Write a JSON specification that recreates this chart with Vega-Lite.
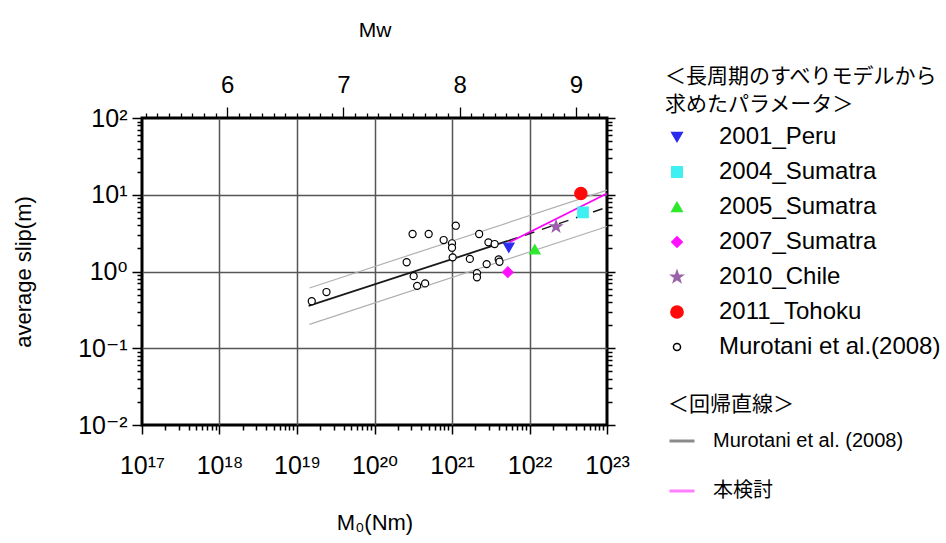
{
  "$schema": "https://vega.github.io/schema/vega-lite/v6.json",
  "width": 465,
  "height": 307,
  "autosize": {"type": "none"},
  "padding": {"left": 142, "top": 118, "right": 339, "bottom": 118},
  "background": "white",
  "config": {
    "view": {"stroke": "black", "strokeWidth": 3},
    "font": "Liberation Sans",
    "axis": {"labelColor": "black", "titleColor": "black", "tickColor": "black", "titleFontWeight": "normal", "labelFont": "Liberation Sans, DejaVu Sans", "titleFont": "Liberation Sans, DejaVu Sans"},
    "legend": {"labelLimit": 0, "titleLimit": 0}
  },
  "datasets": {
    "pts": [
      {"M0": 1.55e19, "slip": 0.41, "ev": "Murotani et al.(2008)"},
      {"M0": 2.4e19, "slip": 0.54, "ev": "Murotani et al.(2008)"},
      {"M0": 3.1e20, "slip": 3.08, "ev": "Murotani et al.(2008)"},
      {"M0": 5.0e20, "slip": 3.08, "ev": "Murotani et al.(2008)"},
      {"M0": 2.6e20, "slip": 1.32, "ev": "Murotani et al.(2008)"},
      {"M0": 3.2e20, "slip": 0.87, "ev": "Murotani et al.(2008)"},
      {"M0": 3.55e20, "slip": 0.65, "ev": "Murotani et al.(2008)"},
      {"M0": 4.5e20, "slip": 0.70, "ev": "Murotani et al.(2008)"},
      {"M0": 7.8e20, "slip": 2.57, "ev": "Murotani et al.(2008)"},
      {"M0": 1.0e21, "slip": 2.33, "ev": "Murotani et al.(2008)"},
      {"M0": 1.0e21, "slip": 2.04, "ev": "Murotani et al.(2008)"},
      {"M0": 1.12e21, "slip": 3.95, "ev": "Murotani et al.(2008)"},
      {"M0": 1.02e21, "slip": 1.53, "ev": "Murotani et al.(2008)"},
      {"M0": 1.7e21, "slip": 1.46, "ev": "Murotani et al.(2008)"},
      {"M0": 2.24e21, "slip": 3.08, "ev": "Murotani et al.(2008)"},
      {"M0": 2.1e21, "slip": 0.95, "ev": "Murotani et al.(2008)"},
      {"M0": 2.1e21, "slip": 0.84, "ev": "Murotani et al.(2008)"},
      {"M0": 2.8e21, "slip": 1.25, "ev": "Murotani et al.(2008)"},
      {"M0": 2.95e21, "slip": 2.40, "ev": "Murotani et al.(2008)"},
      {"M0": 3.55e21, "slip": 2.28, "ev": "Murotani et al.(2008)"},
      {"M0": 4.0e21, "slip": 1.44, "ev": "Murotani et al.(2008)"},
      {"M0": 4.1e21, "slip": 1.34, "ev": "Murotani et al.(2008)"},
      {"M0": 5.4e21, "slip": 2.04, "ev": "2001_Peru"},
      {"M0": 4.9e22, "slip": 5.9, "ev": "2004_Sumatra"},
      {"M0": 1.17e22, "slip": 1.95, "ev": "2005_Sumatra"},
      {"M0": 5.25e21, "slip": 0.98, "ev": "2007_Sumatra"},
      {"M0": 2.2e22, "slip": 3.84, "ev": "2010_Chile"},
      {"M0": 4.6e22, "slip": 10.4, "ev": "2011_Tohoku"}
    ],
    "lines": [
      {"M0": 1.41e19, "slip": 0.357, "reg": "Murotani et al. (2008)"},
      {"M0": 5.25e21, "slip": 2.5, "reg": "Murotani et al. (2008)"},
      {"M0": 5.25e21, "slip": 2.5, "reg": "ext"},
      {"M0": 1e23, "slip": 6.87, "reg": "ext"},
      {"M0": 5.5e21, "slip": 2.4, "reg": "本検討"},
      {"M0": 1e23, "slip": 10.4, "reg": "本検討"},
      {"M0": 1.45e19, "slip": 0.61, "reg": "upper"},
      {"M0": 1e23, "slip": 11.5, "reg": "upper"},
      {"M0": 1.45e19, "slip": 0.205, "reg": "lower"},
      {"M0": 1e23, "slip": 3.86, "reg": "lower"}
    ]
  },
  "layer": [
    {
      "layer": [
        {
          "data": {"name": "lines"},
          "transform": [{"filter": "datum.reg === 'upper' || datum.reg === 'lower'"}],
          "mark": {"type": "line", "color": "#b0b0b0", "strokeWidth": 1.2},
          "encoding": {
            "x": {
              "field": "M0", "type": "quantitative",
              "scale": {"type": "log", "domain": [1e17, 1e23], "nice": false},
              "axis": {
                "orient": "bottom",
                "title": "M₀(Nm)",
                "titleFontSize": 22,
                "titlePadding": 34,
                "domain": false,
                "values": [1e17,2e17,3e17,4e17,5e17,6e17,7e17,8e17,9e17,1e18,2e18,3e18,4e18,5e18,6e18,7e18,8e18,9e18,1e19,2e19,3e19,4e19,5e19,6e19,7e19,8e19,9e19,1e20,2e20,3e20,4e20,5e20,6e20,7e20,8e20,9e20,1e21,2e21,3e21,4e21,5e21,6e21,7e21,8e21,9e21,1e22,2e22,3e22,4e22,5e22,6e22,7e22,8e22,9e22,1e23],
                "labelExpr": "abs(log(datum.value)/LN10 - round(log(datum.value)/LN10)) < 0.001 ? ['10¹⁷','10¹⁸','10¹⁹','10²⁰','10²¹','10²²','10²³'][round(log(datum.value)/LN10)-17] : ''",
                "labelFontSize": 25,
                "labelPadding": 19,
                "labelOverlap": false,
                "labelFlush": false,
                "labelBound": false,
                "tickSize": {"condition": {"test": "abs(log(datum.value)/LN10 - round(log(datum.value)/LN10)) < 0.001", "value": 9}, "value": 5},
                "tickWidth": 1.5,
                "grid": true,
                "gridColor": "#555555",
                "gridWidth": 1.5,
                "gridOpacity": {"condition": {"test": "abs(log(datum.value)/LN10 - round(log(datum.value)/LN10)) < 0.001 && datum.value > 2e17 && datum.value < 5e22", "value": 1}, "value": 0}
              }
            },
            "y": {
              "field": "slip", "type": "quantitative",
              "scale": {"type": "log", "domain": [0.01, 100], "nice": false},
              "axis": {
                "orient": "left",
                "title": "average slip(m)",
                "titleFontSize": 22,
                "titlePadding": 42,
                "domain": false,
                "values": [0.01,0.02,0.03,0.04,0.05,0.06,0.07,0.08,0.09,0.1,0.2,0.3,0.4,0.5,0.6,0.7,0.8,0.9,1,2,3,4,5,6,7,8,9,10,20,30,40,50,60,70,80,90,100],
                "labelExpr": "abs(log(datum.value)/LN10 - round(log(datum.value)/LN10)) < 0.001 ? ['10⁻²','10⁻¹','10⁰','10¹','10²'][round(log(datum.value)/LN10)+2] : ''",
                "labelFontSize": 25,
                "labelPadding": 5,
                "labelOverlap": false,
                "labelFlush": false,
                "labelBound": false,
                "tickSize": {"condition": {"test": "abs(log(datum.value)/LN10 - round(log(datum.value)/LN10)) < 0.001", "value": 10}, "value": 5},
                "tickWidth": 1.5,
                "grid": true,
                "gridColor": "#555555",
                "gridWidth": 1.5,
                "gridOpacity": {"condition": {"test": "abs(log(datum.value)/LN10 - round(log(datum.value)/LN10)) < 0.001 && datum.value > 0.02 && datum.value < 50", "value": 1}, "value": 0}
              }
            },
            "detail": {"field": "reg"}
          }
        },
        {
          "data": {"name": "lines"},
          "transform": [{"filter": "datum.reg === 'ext'"}],
          "mark": {"type": "line", "color": "#1a1a1a", "strokeWidth": 1.5, "strokeDash": [10, 8]},
          "encoding": {
            "x": {"field": "M0", "type": "quantitative"},
            "y": {"field": "slip", "type": "quantitative"}
          }
        },
        {
          "data": {"name": "lines"},
          "transform": [{"filter": "datum.reg === 'Murotani et al. (2008)' || datum.reg === '本検討'"}],
          "mark": {"type": "line", "strokeWidth": 1.8},
          "encoding": {
            "x": {"field": "M0", "type": "quantitative"},
            "y": {"field": "slip", "type": "quantitative"},
            "color": {
              "field": "reg", "type": "nominal",
              "scale": {"domain": ["Murotani et al. (2008)", "本検討"], "range": ["#1a1a1a", "#ff00ff"]},
              "legend": {
                "title": "＜回帰直線＞",
                "orient": "none",
                "legendX": 526,
                "legendY": 276,
                "padding": 0,
                "titleFont": "Noto Sans CJK JP",
                "titleFontSize": 21,
                "titleFontWeight": "normal",
                "titleColor": "black",
                "titlePadding": 12,
                "labelFont": "Liberation Sans, Noto Sans CJK JP",
                "labelFontSize": 20,
                "labelColor": "black",
                "labelOffset": 17,
                "rowPadding": 26,
                "symbolType": "stroke",
                "symbolSize": 625,
                "symbolStrokeWidth": 3,
                "symbolOpacity": 0.5
              }
            }
          }
        },
        {
          "data": {"name": "pts"},
          "mark": {"type": "point", "filled": false, "strokeWidth": 1.2, "opacity": 1},
          "encoding": {
            "x": {"field": "M0", "type": "quantitative"},
            "y": {"field": "slip", "type": "quantitative"},
            "fill": {
              "field": "ev", "type": "nominal",
              "scale": {"domain": ["2001_Peru", "2004_Sumatra", "2005_Sumatra", "2007_Sumatra", "2010_Chile", "2011_Tohoku", "Murotani et al.(2008)"], "range": ["#2b2bf0", "#3ff0f0", "#2ee82e", "#ff10ff", "#9a62a8", "#ff0a0a", "white"]},
              "legend": {"title": ["＜長周期のすべりモデルから", "求めたパラメータ＞"], "orient": "none", "legendX": 523, "legendY": -52, "padding": 0, "titleFont": "Noto Sans CJK JP", "titleFontSize": 21, "titleFontWeight": "normal", "titleLineHeight": 28, "titleColor": "black", "titlePadding": 10, "labelFont": "Liberation Sans", "labelFontSize": 24, "labelColor": "black", "labelOffset": 30, "rowPadding": 11}
            },
            "stroke": {
              "field": "ev", "type": "nominal",
              "scale": {"domain": ["2001_Peru", "2004_Sumatra", "2005_Sumatra", "2007_Sumatra", "2010_Chile", "2011_Tohoku", "Murotani et al.(2008)"], "range": ["#2b2bf0", "#3ff0f0", "#2ee82e", "#ff10ff", "#9a62a8", "#ff0a0a", "black"]},
              "legend": {"title": ["＜長周期のすべりモデルから", "求めたパラメータ＞"], "orient": "none", "legendX": 523, "legendY": -52, "padding": 0, "titleFont": "Noto Sans CJK JP", "titleFontSize": 21, "titleFontWeight": "normal", "titleLineHeight": 28, "titleColor": "black", "titlePadding": 10, "labelFont": "Liberation Sans", "labelFontSize": 24, "labelColor": "black", "labelOffset": 30, "rowPadding": 11}
            },
            "shape": {
              "field": "ev", "type": "nominal",
              "scale": {"domain": ["2001_Peru", "2004_Sumatra", "2005_Sumatra", "2007_Sumatra", "2010_Chile", "2011_Tohoku", "Murotani et al.(2008)"], "range": ["triangle-down", "square", "triangle-up", "diamond", "M0,-1L0.235,-0.324L0.951,-0.309L0.38,0.124L0.588,0.809L0,0.4L-0.588,0.809L-0.38,0.124L-0.951,-0.309L-0.235,-0.324Z", "circle", "circle"]},
              "legend": {"title": ["＜長周期のすべりモデルから", "求めたパラメータ＞"], "orient": "none", "legendX": 523, "legendY": -52, "padding": 0, "titleFont": "Noto Sans CJK JP", "titleFontSize": 21, "titleFontWeight": "normal", "titleLineHeight": 28, "titleColor": "black", "titlePadding": 10, "labelFont": "Liberation Sans", "labelFontSize": 24, "labelColor": "black", "labelOffset": 30, "rowPadding": 11}
            },
            "size": {
              "field": "ev", "type": "nominal",
              "scale": {"type": "ordinal", "domain": ["2001_Peru", "2004_Sumatra", "2005_Sumatra", "2007_Sumatra", "2010_Chile", "2011_Tohoku", "Murotani et al.(2008)"], "range": [110, 110, 110, 110, 150, 150, 50]},
              "legend": {"title": ["＜長周期のすべりモデルから", "求めたパラメータ＞"], "orient": "none", "legendX": 523, "legendY": -52, "padding": 0, "titleFont": "Noto Sans CJK JP", "titleFontSize": 21, "titleFontWeight": "normal", "titleLineHeight": 28, "titleColor": "black", "titlePadding": 10, "labelFont": "Liberation Sans", "labelFontSize": 24, "labelColor": "black", "labelOffset": 30, "rowPadding": 11}
            }
          }
        }
      ]
    },
    {
      "data": {"values": [{"Mw": 7, "s": 1}]},
      "mark": {"type": "point", "opacity": 0},
      "encoding": {
        "x": {
          "field": "Mw", "type": "quantitative",
          "scale": {"domain": [5.266667, 9.266667], "nice": false, "zero": false},
          "axis": {
            "orient": "top",
            "title": "Mw",
            "titleFontSize": 21,
            "titlePadding": 33,
            "domain": false,
            "grid": false,
            "values": [5.3,5.4,5.5,5.6,5.7,5.8,5.9,6,6.1,6.2,6.3,6.4,6.5,6.6,6.7,6.8,6.9,7,7.1,7.2,7.3,7.4,7.5,7.6,7.7,7.8,7.9,8,8.1,8.2,8.3,8.4,8.5,8.6,8.7,8.8,8.9,9,9.1,9.2],
            "labelExpr": "abs(datum.value - round(datum.value)) < 0.01 ? format(datum.value, 'd') : ''",
            "labelFontSize": 24,
            "labelPadding": 10,
            "labelOverlap": false,
            "labelFlush": false,
            "labelBound": false,
            "tickSize": {"condition": {"test": "abs(datum.value - round(datum.value)) < 0.01", "value": 11}, "value": 5},
            "tickWidth": 1.3
          }
        },
        "y": {
          "field": "s", "type": "quantitative",
          "scale": {"type": "log", "domain": [0.01, 100], "nice": false},
          "axis": {
            "orient": "right",
            "title": null,
            "domain": false,
            "grid": false,
            "values": [0.01,0.02,0.03,0.04,0.05,0.06,0.07,0.08,0.09,0.1,0.2,0.3,0.4,0.5,0.6,0.7,0.8,0.9,1,2,3,4,5,6,7,8,9,10,20,30,40,50,60,70,80,90,100],
            "labels": false,
            "tickSize": {"condition": {"test": "abs(log(datum.value)/LN10 - round(log(datum.value)/LN10)) < 0.001", "value": 8}, "value": 5},
            "tickWidth": 1.5
          }
        }
      }
    }
  ],
  "resolve": {"scale": {"x": "independent", "y": "independent"}, "axis": {"x": "independent", "y": "independent"}}
}
